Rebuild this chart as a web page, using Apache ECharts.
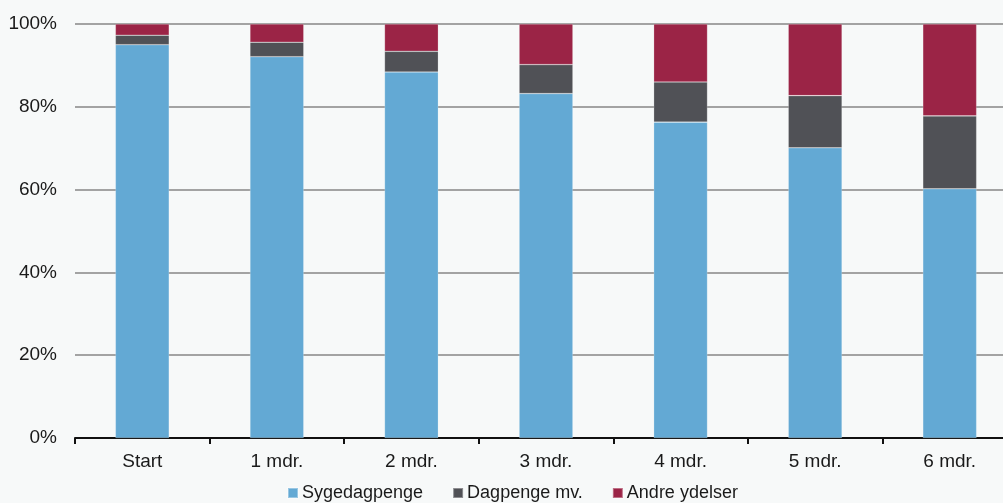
<!DOCTYPE html>
<html>
<head>
<meta charset="utf-8">
<script src="https://cdn.jsdelivr.net/npm/echarts@6/dist/echarts.min.js"></script>
<style>
html,body{margin:0;padding:0;background:#f7f9f9;}
#chart{width:1003px;height:503px;}
</style>
</head>
<body>
<div id="chart"></div>
<script>
const categories = ['Start', '1 mdr.', '2 mdr.', '3 mdr.', '4 mdr.', '5 mdr.', '6 mdr.'];
const sygedagpenge = [95.0, 92.1, 88.4, 83.2, 76.3, 70.1, 60.2];
const dagpenge = [2.3, 3.5, 5.0, 7.0, 9.7, 12.6, 17.6];
const andre = [2.7, 4.4, 6.6, 9.8, 14.0, 17.3, 22.2];
const seriesNames = ['Sygedagpenge', 'Dagpenge mv.', 'Andre ydelser'];
const colors = ['#63a9d4', '#505156', '#9b2446'];

const chart = echarts.init(document.getElementById('chart'), null, {renderer: 'canvas'});
const font = 'Liberation Sans, Arial, Helvetica, sans-serif';
const mk = (name, data, color) => ({
  name: name, type: 'bar', stack: 'total', data: data, barWidth: '40%',
  itemStyle: {color: color, borderColor: 'rgba(255,255,255,0.35)', borderWidth: 0.6},
  emphasis: {disabled: true}
});
chart.setOption({
  backgroundColor: '#f7f9f9',
  animation: false,
  color: colors,
  grid: {left: 75, top: 24, right: -14, bottom: 65, containLabel: false, outerBoundsMode: 'none'},
  legend: {
    left: 287, top: 484, padding: 0, itemWidth: 10, itemHeight: 10, itemGap: 29,
    icon: 'rect',
    textStyle: {fontFamily: font, fontSize: 18, color: '#1a1a1a', padding: [0,0,0,-1]},
    data: seriesNames
  },
  xAxis: {
    type: 'category', data: categories,
    axisLine: {lineStyle: {color: '#111', width: 2}},
    axisTick: {show: true, length: 6, lineStyle: {color: '#111', width: 2}},
    axisLabel: {fontFamily: font, fontSize: 19, color: '#1a1a1a', margin: 14}
  },
  yAxis: {
    type: 'value', min: 0, max: 100, interval: 20,
    axisLine: {show: false}, axisTick: {show: false},
    axisLabel: {fontFamily: font, fontSize: 19, color: '#1a1a1a', margin: 18, formatter: '{value}%'},
    splitLine: {lineStyle: {color: '#a3a3a3', width: 2}}
  },
  series: [
    mk(seriesNames[0], sygedagpenge, colors[0]),
    mk(seriesNames[1], dagpenge, colors[1]),
    mk(seriesNames[2], andre, colors[2])
  ]
});
</script>
</body>
</html>
